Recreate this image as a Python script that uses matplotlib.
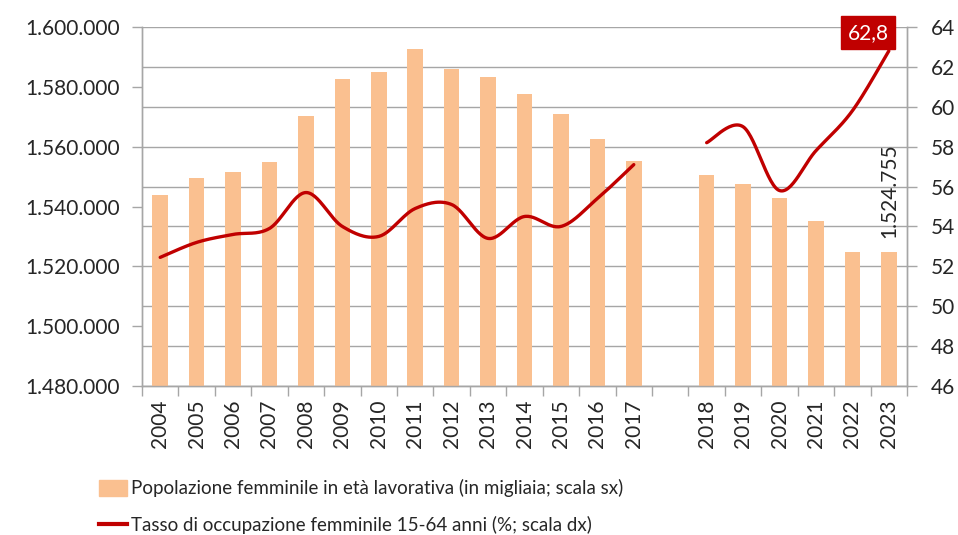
import numpy as np
import matplotlib
matplotlib.use("Agg")
import matplotlib.pyplot as plt
from matplotlib.lines import Line2D
from matplotlib.patches import Patch

categories = ["2004", "2005", "2006", "2007", "2008", "2009", "2010", "2011", "2012",
              "2013", "2014", "2015", "2016", "2017", "", "2018", "2019", "2020",
              "2021", "2022", "2023"]
population = [1543900, 1549600, 1551600, 1554800, 1570400, 1582700, 1584900, 1592500,
              1585900, 1583300, 1577500, 1570800, 1562600, 1555300, np.nan, 1550600,
              1547500, 1542900, 1535200, 1524700, 1524755]
employment = [52.45, 53.2, 53.6, 53.9, 55.7, 54.0, 53.5, 54.9, 55.1, 53.4, 54.5, 54.0,
              55.4, 57.1, np.nan, 58.2, 59.0, 55.8, 57.8, 59.8, 62.8]
left_ticks = [1480000, 1500000, 1520000, 1540000, 1560000, 1580000, 1600000]
right_ticks = [46, 48, 50, 52, 54, 56, 58, 60, 62, 64]

BAR = "#FAC090"
RED = "#C00000"
GRID = "#A6A6A6"
TXT = "#262626"
plt.rcParams["font.family"] = ["Lato", "DejaVu Sans"]
TICK_FS = 15


def fmt_it(v):
    return f"{int(round(v)):,}".replace(",", ".")


def smooth(xs, ys, n=30):
    xs = np.asarray(xs, float)
    ys = np.asarray(ys, float)
    if len(xs) < 2:
        return xs, ys
    px = np.concatenate([[xs[0]], xs, [xs[-1]]])
    py = np.concatenate([[ys[0]], ys, [ys[-1]]])
    ox, oy = [], []
    t = np.linspace(0, 1, n)
    for i in range(1, len(px) - 2):
        p0 = np.array([px[i], py[i]])
        p3 = np.array([px[i + 1], py[i + 1]])
        p1 = p0 + (np.array([px[i + 1], py[i + 1]]) - np.array([px[i - 1], py[i - 1]])) / 6
        p2 = p3 - (np.array([px[i + 2], py[i + 2]]) - np.array([px[i], py[i]])) / 6
        b = ((1 - t) ** 3)[:, None] * p0 + (3 * (1 - t) ** 2 * t)[:, None] * p1 + \
            (3 * (1 - t) * t ** 2)[:, None] * p2 + (t ** 3)[:, None] * p3
        ox.extend(b[:, 0])
        oy.extend(b[:, 1])
    return np.array(ox), np.array(oy)


fig = plt.figure(figsize=(9.58, 5.35), dpi=100)
ax = fig.add_axes([0.1482, 0.2785, 0.7986, 0.671])
ax2 = ax.twinx()
ax.set_zorder(2)
ax2.set_zorder(1)
ax.patch.set_visible(False)

x = np.arange(len(categories))
pop = np.array(population, float)
emp = np.array(employment, float)

ax.bar(x, pop, width=0.43, color=BAR, zorder=2)
ax.set_ylim(left_ticks[0], left_ticks[-1])
ax.set_yticks(left_ticks)
ax.set_yticklabels([fmt_it(v) for v in left_ticks])
ax.set_xlim(-0.5, len(categories) - 0.5)
ax.set_xticks(x)
ax.set_xticklabels(categories, rotation=90)
ax.set_xticks(np.arange(-0.5, len(categories)), minor=True)
ax.tick_params(axis="x", which="major", length=0, pad=10, labelsize=TICK_FS, labelcolor=TXT)
ax.tick_params(axis="x", which="minor", length=7, width=1, color=GRID, direction="out")
ax.tick_params(axis="y", length=7, width=1, color=GRID, labelsize=TICK_FS, labelcolor=TXT, pad=9)

ax2.set_ylim(right_ticks[0], right_ticks[-1])
ax2.set_yticks(right_ticks)
ax2.tick_params(axis="y", length=7, width=1, color=GRID, labelsize=TICK_FS, labelcolor=TXT, pad=10)
for v in right_ticks:
    ax2.axhline(v, color=GRID, lw=1, zorder=0)

# line (smoothed, broken at gap), drawn on top of bars
valid = ~np.isnan(emp)
segs, cur = [], []
for i in range(len(x)):
    if valid[i]:
        cur.append(i)
    else:
        if cur:
            segs.append(cur)
        cur = []
if cur:
    segs.append(cur)
for s in segs:
    sx, sy = smooth(x[s], emp[s])
    ax.plot(sx, sy, color=RED, lw=2.4, solid_capstyle="round", zorder=4,
            transform=ax2.transData)

for a in (ax, ax2):
    a.spines["top"].set_visible(False)
    for side in ("left", "right", "bottom"):
        a.spines[side].set_color(GRID)
        a.spines[side].set_linewidth(1)

# data labels
ax.annotate(fmt_it(pop[-1]), xy=(x[-1], pop[-1]), xytext=(0, 10), textcoords="offset points",
            rotation=90, ha="center", va="bottom", fontsize=TICK_FS, color=TXT, zorder=5)
ax.annotate(f"{emp[-1]:.1f}".replace(".", ","), xy=(x[-1], emp[-1]), xycoords=ax2.transData,
            xytext=(-15, 6), textcoords="offset points", ha="center", va="bottom",
            fontsize=TICK_FS, color="white", zorder=6,
            bbox=dict(boxstyle="square,pad=0.33", fc=RED, ec=RED))

handles = [Patch(facecolor=BAR, edgecolor=BAR),
           Line2D([0], [0], color=RED, lw=3)]
labels = ["Popolazione femminile in età lavorativa (in migliaia; scala sx)",
          "Tasso di occupazione femminile 15-64 anni (%; scala dx)"]
leg = fig.legend(handles, labels, loc="upper left", bbox_to_anchor=(0.103, 0.104),
                 frameon=False, ncol=1, prop={"size": 13.5},
                 handlelength=1.5, handleheight=1.0, handletextpad=0.25, labelspacing=1.0,
                 borderaxespad=0, borderpad=0)
for t in leg.get_texts():
    t.set_color(TXT)

fig.savefig("out.png", dpi=100)
